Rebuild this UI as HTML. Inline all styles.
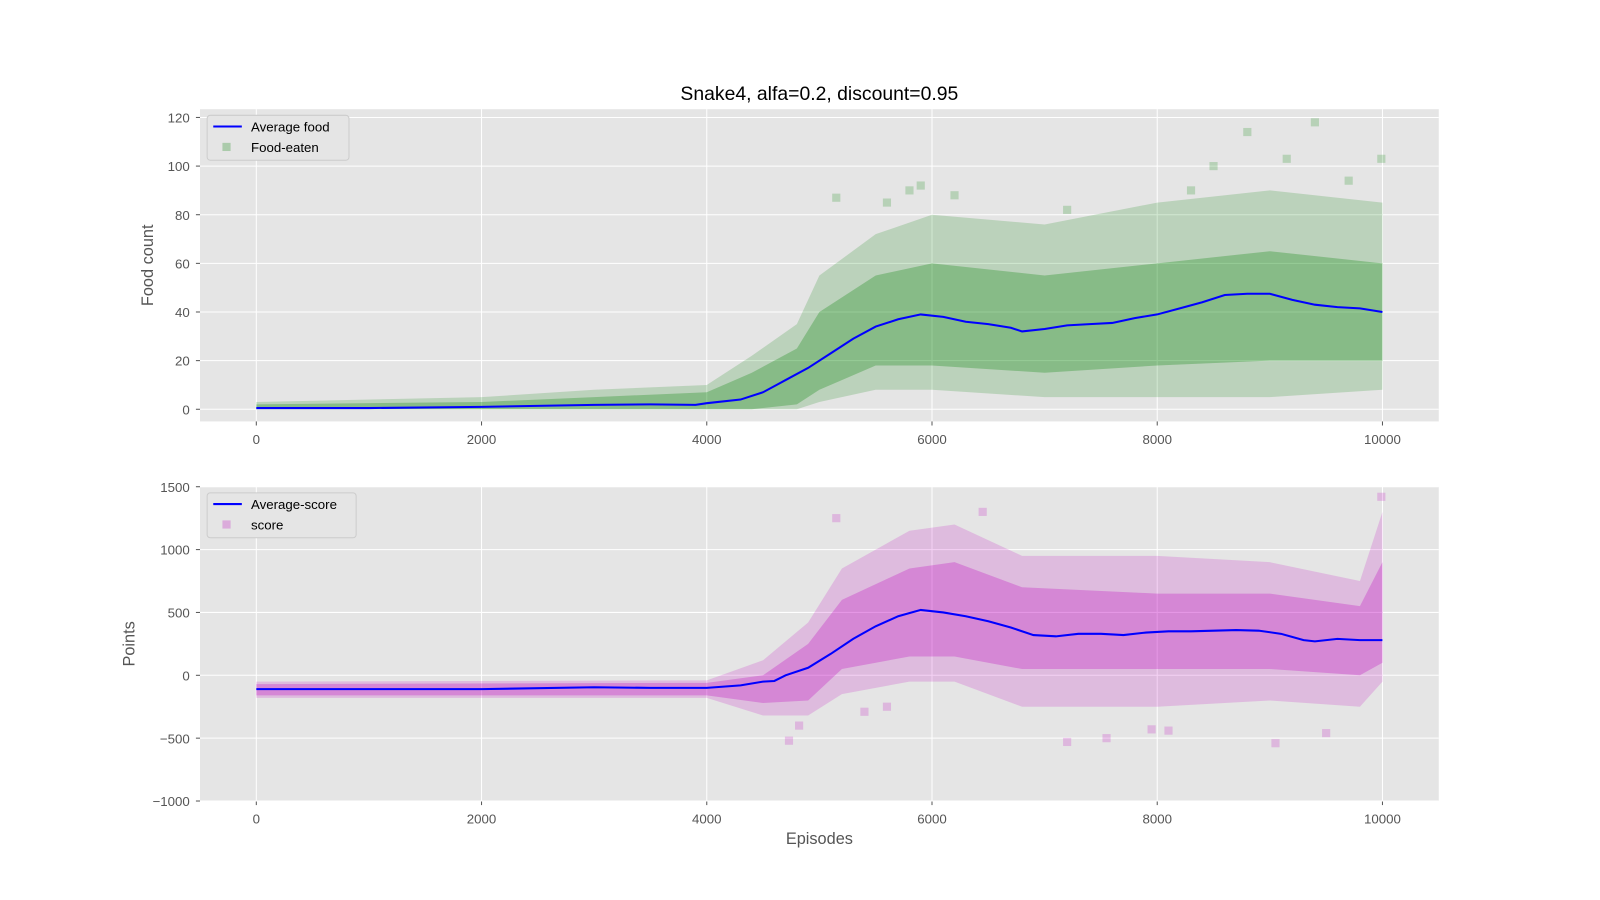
<!DOCTYPE html>
<html><head><meta charset="utf-8"><style>
body{margin:0;background:#fff;}
svg{display:block;font-family:"Liberation Sans","DejaVu Sans",sans-serif;}
</style></head><body>
<svg id="c" width="1600" height="900" viewBox="0 0 1600 900"><g id="root" transform="scale(1.0204)"></g></svg>
<script>
// ---- data ----
const avgFoodX=[0,1000,2000,3000,3500,3900,4000,4300,4500,4700,4900,5100,5300,5500,5700,5900,6100,6300,6500,6700,6800,7000,7200,7400,7600,7800,8000,8200,8400,8600,8800,9000,9200,9400,9600,9800,10000];
const avgFoodY=[0.5,0.5,1,1.8,2,1.8,2.5,4,7,12,17,23,29,34,37,39,38,36,35,33.5,32,33,34.5,35,35.5,37.5,39,41.5,44,47,47.5,47.5,45,43,42,41.5,40];
const foodBandX=[0,2000,3000,4000,4400,4800,5000,5500,6000,7000,8000,9000,10000];
const foodBandLo=[0,0,0,0,0,0,3,8,8,5,5,5,8];
const foodBandHi=[3,5,8,10,22,35,55,72,80,76,85,90,85];
const foodCoreLo=[0,0,0,0,0,2,8,18,18,15,18,20,20];
const foodCoreHi=[2,3,5,7,15,25,40,55,60,55,60,65,60];
const foodOutX=[5150,5600,5900,6200,8300,8800,9150,9400,9990,5800,7200,8500,9700];
const foodOutY=[87,85,92,88,90,114,103,118,103,90,82,100,94];
const avgScoreX=[0,2000,3000,3500,4000,4300,4500,4600,4700,4900,5100,5300,5500,5700,5900,6100,6300,6500,6700,6900,7100,7300,7500,7700,7900,8100,8300,8500,8700,8900,9100,9300,9400,9600,9800,10000];
const avgScoreY=[-110,-110,-95,-100,-100,-80,-50,-45,0,60,170,290,390,470,520,500,470,430,380,320,310,330,330,320,340,350,350,355,360,355,330,280,270,290,280,280];
const scoreBandX=[0,4000,4500,4900,5200,5800,6200,6800,8000,9000,9800,10000];
const scoreBandLo=[-180,-180,-320,-320,-150,-50,-50,-250,-250,-200,-250,-50];
const scoreBandHi=[-50,-40,120,420,850,1150,1200,950,950,900,750,1300];
const scoreCoreLo=[-160,-160,-220,-200,50,150,150,50,50,50,0,100];
const scoreCoreHi=[-70,-60,0,250,600,850,900,700,650,650,550,900];
const scoreOutX=[4730,4820,5400,5600,7200,7550,7950,8100,9050,9500,9990,5150,6450];
const scoreOutY=[-520,-400,-290,-250,-530,-500,-430,-440,-540,-460,1420,1250,1300];
const xTicks=[0,2000,4000,6000,8000,10000];
const foodTicks=[0,20,40,60,80,100,120];
const scoreTicks=[-1000,-500,0,500,1000,1500];

const NS="http://www.w3.org/2000/svg";
const svg=document.getElementById('root');
function mk(t,a,p){const e=document.createElementNS(NS,t);for(const k in a)e.setAttribute(k,a[k]);(p||svg).appendChild(e);return e;}
const X=v=>196+(v+500)/11000*1214;

function panel(name,top,bot,ymin,ymax,ticks,bx,blo,bhi,clo,chi,ax,ay,ox,oy,col,label,legA,legB,legW){
  const Y=v=>bot-(v-ymin)/(ymax-ymin)*(bot-top);
  const g=mk('g',{});
  
  
  mk('rect',{x:196,y:top,width:1214,height:bot-top,fill:'#e5e5e5'},g);
  xTicks.forEach(t=>{mk('line',{x1:X(t),x2:X(t),y1:top,y2:bot,stroke:'#fff','stroke-width':1},g);
    mk('line',{x1:X(t),x2:X(t),y1:bot,y2:bot+4,stroke:'#555','stroke-width':1},g);
    const tx=mk('text',{x:X(t),y:bot+22,'text-anchor':'middle','font-size':13,fill:'#555'},g);tx.textContent=t;
    });
  ticks.forEach(t=>{mk('line',{x1:196,x2:1410,y1:Y(t),y2:Y(t),stroke:'#fff','stroke-width':1},g);
    mk('line',{x1:192,x2:196,y1:Y(t),y2:Y(t),stroke:'#555','stroke-width':1},g);
    const tx=mk('text',{x:186,y:Y(t)+5,'text-anchor':'end','font-size':13,fill:'#555'},g);tx.textContent=t<0?'\u2212'+(-t):t;
    });
  function band(lo,hi,op){let d='M'+bx.map((v,i)=>X(v)+','+Y(hi[i])).join('L');
    for(let i=bx.length-1;i>=0;i--)d+='L'+X(bx[i])+','+Y(lo[i]);
    const p=mk('path',{d:d+'Z',fill:col,opacity:op},g);
    }
  band(blo,bhi,0.18);band(clo,chi,0.28);
  ox.forEach((v,i)=>{const r=mk('rect',{x:X(v)-4,y:Y(oy[i])-4,width:8,height:8,fill:col,opacity:0.2},g);
    });
  const ln=mk('polyline',{points:ax.map((v,i)=>X(v)+','+Y(ay[i])).join(' '),fill:'none',stroke:'#0000ff','stroke-width':2},g);
  
  const yl=mk('text',{x:0,y:0,transform:`translate(${name==='food'?150:132},${(top+bot)/2}) rotate(-90)`,'text-anchor':'middle','font-size':16,fill:'#555'},g);
  yl.textContent=label;
  const lg=mk('g',{},g);
  mk('rect',{x:203,y:top+6,width:legW,height:44,fill:'#e5e5e5',stroke:'#ccc',rx:3},lg);
  mk('line',{x1:209,x2:237,y1:top+17,y2:top+17,stroke:'#0000ff','stroke-width':2},lg);
  const t1=mk('text',{x:246,y:top+22,'font-size':13,fill:'#000'},lg);t1.textContent=legA;
  mk('rect',{x:218,y:top+33,width:8,height:8,fill:col,opacity:0.25},lg);
  const t2=mk('text',{x:246,y:top+42,'font-size':13,fill:'#000'},lg);t2.textContent=legB;
}
panel('food',107,413,-5,123.4,foodTicks,foodBandX,foodBandLo,foodBandHi,foodCoreLo,foodCoreHi,avgFoodX,avgFoodY,foodOutX,foodOutY,'#008000','Food count','Average food','Food-eaten',139);
panel('score',477,785,-1000,1500,scoreTicks,scoreBandX,scoreBandLo,scoreBandHi,scoreCoreLo,scoreCoreHi,avgScoreX,avgScoreY,scoreOutX,scoreOutY,'#c000c0','Points','Average-score','score',146);
const ti=mk('text',{x:803,y:98,'text-anchor':'middle','font-size':19,fill:'#000'});ti.textContent='Snake4, alfa=0.2, discount=0.95';

const xl=mk('text',{x:803,y:827,'text-anchor':'middle','font-size':16,fill:'#555'});xl.textContent='Episodes';

</script>
</body></html>
